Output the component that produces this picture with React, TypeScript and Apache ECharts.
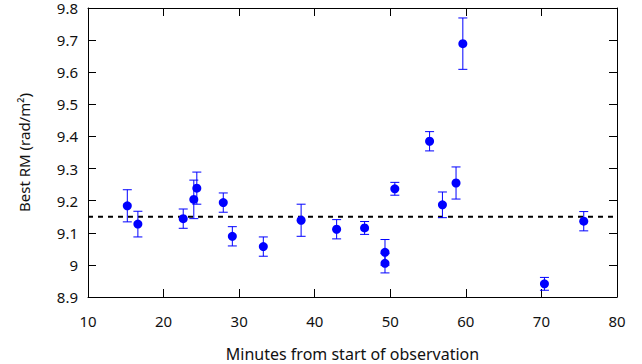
import React, { useEffect, useRef } from "react";
import * as echarts from "echarts";

const minutes = [15.2, 16.6, 22.6, 24.0, 24.4, 27.9, 29.1, 33.2, 38.2, 42.9, 46.6, 49.3, 49.3, 50.6, 55.2, 56.9, 58.7, 59.6, 70.4, 75.6];
const bestRM = [9.184, 9.127, 9.144, 9.204, 9.239, 9.194, 9.089, 9.057, 9.139, 9.111, 9.115, 9.039, 9.005, 9.237, 9.385, 9.187, 9.255, 9.689, 8.941, 9.136];
const rmError = [0.05, 0.04, 0.03, 0.06, 0.05, 0.03, 0.03, 0.03, 0.05, 0.03, 0.02, 0.04, 0.03, 0.02, 0.03, 0.04, 0.05, 0.08, 0.02, 0.03];
const meanRM = 9.15;
const xRange = [10, 80];
const yRange = [8.9, 9.8];

export default function App() {
  const ref = useRef<HTMLDivElement>(null);
  useEffect(() => {
    const chart = echarts.init(ref.current!, null, { renderer: "svg" });
    const font = "Noto Sans";
    const axisCommon = {
      axisLine: { show: true, lineStyle: { color: "#000", width: 1 } },
      axisTick: { show: true, inside: true, length: 8, lineStyle: { color: "#000" } },
      splitLine: { show: false },
    };
    const pts = minutes.map((m, i) => [m, bestRM[i]]);
    const errs = minutes.map((m, i) => [m, bestRM[i] - rmError[i], bestRM[i] + rmError[i]]);
    chart.setOption({
      animation: false,
      grid: { left: 88, right: 25, top: 8, bottom: 67, outerBoundsMode: "none", containLabel: false },
      xAxis: [
        {
          type: "value", min: xRange[0], max: xRange[1], interval: 10,
          ...axisCommon,
          axisLabel: { color: "#111", fontFamily: font, fontSize: 15, margin: 16 },
          name: "Minutes from start of observation",
          nameLocation: "middle", nameGap: 49,
          nameTextStyle: { color: "#111", fontFamily: font, fontSize: 16 },
        },
        {
          type: "value", position: "top", min: xRange[0], max: xRange[1], interval: 10,
          ...axisCommon, axisLabel: { show: false },
        },
      ],
      yAxis: [
        {
          type: "value", min: yRange[0], max: yRange[1], interval: 0.1,
          ...axisCommon,
          axisLabel: { color: "#111", fontFamily: font, fontSize: 15, lineHeight: 12, margin: 10 },
          name: "Best RM (rad/m²)",
          nameLocation: "middle", nameGap: 57,
          nameTextStyle: { color: "#111", fontFamily: font, fontSize: 15 },
        },
        {
          type: "value", position: "right", min: yRange[0], max: yRange[1], interval: 0.1,
          ...axisCommon, axisLabel: { show: false },
        },
      ],
      series: [
        {
          type: "line",
          data: [[xRange[0], meanRM], [xRange[1], meanRM]],
          symbol: "none",
          lineStyle: { color: "#000", width: 2, type: [5, 5] },
          z: 1,
        },
        {
          type: "custom",
          data: errs,
          renderItem: (params: any, api: any) => {
            const x = api.value(0);
            const lo = api.coord([x, api.value(1)]);
            const hi = api.coord([x, api.value(2)]);
            const hw = 4.5;
            const style = { stroke: "#0000ff", lineWidth: 1 };
            return {
              type: "group",
              children: [
                { type: "line", shape: { x1: lo[0], y1: lo[1], x2: hi[0], y2: hi[1] }, style },
                { type: "line", shape: { x1: lo[0] - hw, y1: lo[1], x2: lo[0] + hw, y2: lo[1] }, style },
                { type: "line", shape: { x1: hi[0] - hw, y1: hi[1], x2: hi[0] + hw, y2: hi[1] }, style },
              ],
            };
          },
          z: 2,
        },
        {
          type: "scatter",
          data: pts,
          symbol: "circle",
          symbolSize: 9,
          itemStyle: { color: "#0000ff", opacity: 1 },
          z: 3,
        },
      ],
    });
    return () => chart.dispose();
  }, []);
  return <div ref={ref} style={{ width: 642, height: 364, position: "absolute", left: 0, top: 0 }} />;
}
